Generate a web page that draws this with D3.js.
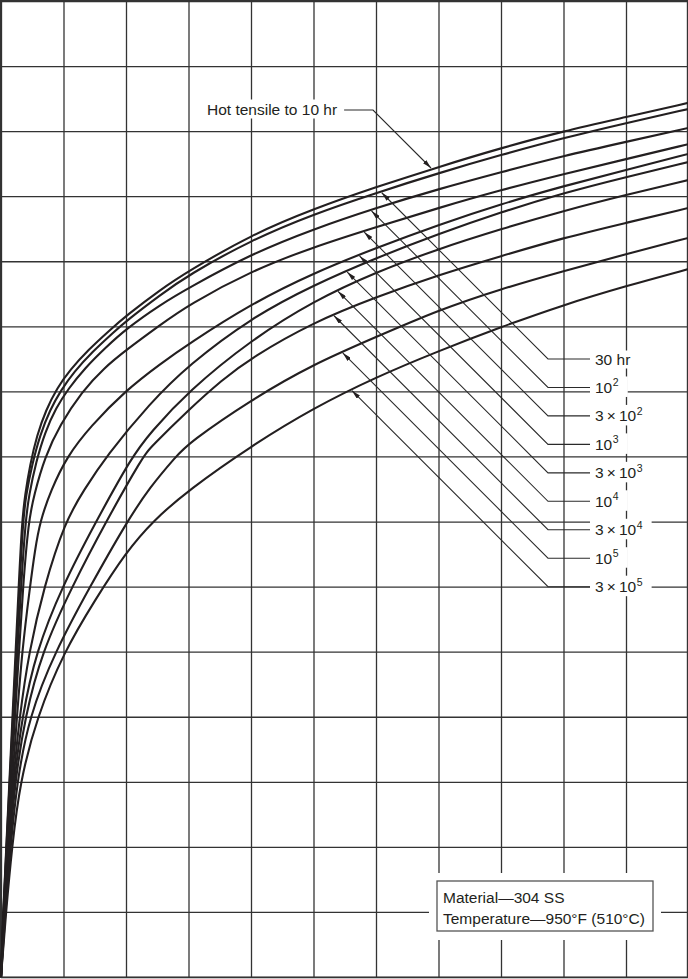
<!DOCTYPE html>
<html>
<head>
<meta charset="utf-8">
<script src="https://cdn.jsdelivr.net/npm/d3@7"></script>
<style>
html,body{margin:0;padding:0;background:#fff;}
svg{display:block;}
text{font-family:"Liberation Sans",Arial,Helvetica,sans-serif;fill:#231f20;}
</style>
</head>
<body>
<svg id="chart" width="688" height="979"></svg>
<script>
// ---------------- data ----------------
// grid (strain %, stress ksi) – chart has no printed tick labels
const strainTicks = [0,0.1,0.2,0.3,0.4,0.5,0.6,0.7,0.8,0.9,1.0,1.1];
const stressTicks = [0,2,4,6,8,10,12,14,16,18,20,22,24,26,28,30];

// isochronous stress-strain curves [strain %, stress ksi]
const hotTensile10hr = [[0,0],[0.0034,2],[0.0085,4],[0.0134,6],[0.0184,8],[0.0234,10],[0.0283,12],[0.0336,14],[0.0384,14.82],[0.0464,15.74],[0.0576,16.66],[0.072,17.43],[0.0896,18.10],[0.1104,18.66],[0.1392,19.27],[0.1744,19.89],[0.2,20.32],[0.2544,21.12],[0.3,21.70],[0.4,22.81],[0.5,23.61],[0.6,24.28],[0.7,24.90],[0.8,25.48],[0.9,26.0],[1.0,26.43],[1.1,26.87]];
const hr30   = [[0,0],[0.0035,2],[0.0088,4],[0.0139,6],[0.0192,8],[0.0245,10],[0.0296,12],[0.0352,14],[0.04,14.82],[0.0496,15.74],[0.0624,16.66],[0.0784,17.43],[0.096,18.04],[0.1168,18.60],[0.1456,19.21],[0.1808,19.83],[0.2,20.16],[0.2544,20.96],[0.3,21.58],[0.4,22.65],[0.5,23.45],[0.6,24.10],[0.7,24.71],[0.8,25.27],[0.9,25.79],[1.0,26.25],[1.1,26.68]];
const hr1e2  = [[0,0],[0.0038,2],[0.0093,4],[0.0147,6],[0.0205,8],[0.0264,10],[0.032,12],[0.0392,14],[0.0448,14.82],[0.056,15.83],[0.0704,16.75],[0.088,17.49],[0.1072,18.07],[0.1344,18.72],[0.1664,19.33],[0.2,19.92],[0.2544,20.66],[0.3,21.18],[0.4,22.22],[0.5,22.99],[0.6,23.64],[0.7,24.22],[0.8,24.74],[0.9,25.24],[1.0,25.67],[1.1,26.10]];
const hr3e2  = [[0,0],[0.0042,2],[0.0099,4],[0.016,6],[0.0224,8],[0.0288,10],[0.0352,12],[0.044,14],[0.0528,14.82],[0.0704,16],[0.0944,16.97],[0.1296,18],[0.1648,18.72],[0.2,19.27],[0.2544,20.04],[0.3,20.66],[0.4,21.70],[0.5,22.44],[0.6,23.05],[0.7,23.64],[0.8,24.19],[0.9,24.68],[1.0,25.14],[1.1,25.60]];
const hr1e3  = [[0,0],[0.0046,2],[0.0109,4],[0.0176,6],[0.0256,8],[0.0336,10],[0.0464,12],[0.0544,13.13],[0.0624,14],[0.08,14.97],[0.1056,16],[0.1424,16.91],[0.2,18.04],[0.2544,18.84],[0.3,19.46],[0.4,20.69],[0.5,21.64],[0.6,22.41],[0.7,23.12],[0.8,23.76],[0.9,24.31],[1.0,24.81],[1.1,25.30]];
const hr3e3  = [[0,0],[0.0051,2],[0.0118,4],[0.0192,6],[0.0296,8],[0.0448,10],[0.0688,12],[0.1024,14],[0.1328,14.97],[0.168,16],[0.2384,17.64],[0.3,18.81],[0.4,20.26],[0.5,21.27],[0.6,22.10],[0.7,22.84],[0.8,23.51],[0.9,24.10],[1.0,24.59],[1.1,25.05]];
const hr1e4  = [[0,0],[0.0056,2],[0.0128,4],[0.0208,6],[0.0336,8],[0.056,10],[0.0976,12],[0.152,14],[0.2096,16],[0.2384,16.72],[0.3,18.01],[0.4,19.58],[0.5,20.78],[0.6,21.67],[0.7,22.38],[0.8,22.99],[0.9,23.55],[1.0,24.04],[1.1,24.50]];
const hr3e4  = [[0,0],[0.0061,2],[0.0138,4],[0.0224,6],[0.0384,8],[0.0656,10],[0.1136,12],[0.168,14],[0.2272,16],[0.2384,16.26],[0.3,17.43],[0.3536,18.35],[0.4,19.03],[0.5,20.13],[0.6,20.90],[0.7,21.58],[0.8,22.16],[0.9,22.72],[1.0,23.18],[1.1,23.64]];
const hr1e5  = [[0,0],[0.0069,2],[0.0152,4],[0.0256,6],[0.0448,8],[0.0864,10],[0.1424,12],[0.2016,14],[0.2384,15.06],[0.28,16],[0.3,16.41],[0.4,17.74],[0.5,18.84],[0.6,19.67],[0.7,20.50],[0.8,21.15],[0.9,21.70],[1.0,22.22],[1.1,22.72]];
const hr3e5  = [[0,0],[0.008,2],[0.0176,4],[0.0304,6],[0.0576,8],[0.1008,10],[0.1504,11.59],[0.2,13.06],[0.2432,14.02],[0.3,14.97],[0.4,16.32],[0.5,17.49],[0.6,18.44],[0.7,19.24],[0.8,19.98],[0.9,20.66],[1.0,21.24],[1.1,21.76]];

// curve labels (base text + superscript exponent)
const topLabel   = "Hot tensile to 10 hr";
const labelBase  = ["30 hr","10","3\u2009\u00d7\u200910","10","3\u2009\u00d7\u200910","10","3\u2009\u00d7\u200910","10","3\u2009\u00d7\u200910"];
const labelExp   = ["","2","2","3","3","4","4","5","5"];
const noteLines  = ["Material\u2014304 SS","Temperature\u2014950\u00b0F (510\u00b0C)"];

const series = [hotTensile10hr, hr30, hr1e2, hr3e2, hr1e3, hr3e3, hr1e4, hr3e4, hr1e5, hr3e5];

// ---------------- drawing ----------------
const W = 688, H = 979;
const x = d3.scaleLinear().domain([0, 1.1]).range([1, 688.5]);
const y = d3.scaleLinear().domain([0, 30]).range([977, 1]);

const svg = d3.select("#chart");
svg.append("rect").attr("width", W).attr("height", H).attr("fill", "#fff");

const defs = svg.append("defs");
defs.append("marker").attr("id","ah")
  .attr("viewBox","0 0 10 5").attr("refX",10).attr("refY",2.5)
  .attr("markerWidth",9).attr("markerHeight",4.5)
  .attr("markerUnits","userSpaceOnUse").attr("orient","auto")
  .append("path").attr("d","M0,0L10,2.5L0,5Z").attr("fill","#231f20");

const gridG  = svg.append("g");
const bgG    = svg.append("g");
const curveG = svg.append("g");
const annoG  = svg.append("g");

// grid via axes
gridG.append("g").attr("transform", `translate(0,${y(0)})`)
  .call(d3.axisBottom(x).tickValues(strainTicks).tickSize(-(y(0) - y(30))).tickFormat(""));
gridG.append("g").attr("transform", `translate(${x(0)},0)`)
  .call(d3.axisLeft(y).tickValues(stressTicks).tickSize(-(x(1.1) - x(0))).tickFormat(""));
gridG.selectAll(".domain").remove();
gridG.selectAll(".tick line").attr("stroke", "#333").attr("stroke-width", 1.3);
gridG.append("rect").attr("x", 0.7).attr("y", 0.7).attr("width", 686.8).attr("height", 976.6)
  .attr("fill", "none").attr("stroke", "#333").attr("stroke-width", 1.4);

// curves
const line = d3.line().x(d => x(d[0])).y(d => y(d[1])).curve(d3.curveBasis);
const paths = curveG.selectAll("path.c").data(series).join("path")
  .attr("class", "c")
  .attr("d", line)
  .attr("fill", "none")
  .attr("stroke", "#231f20")
  .attr("stroke-width", 2.1)
  .attr("stroke-linejoin", "round");

function sample(node) {
  const L = node.getTotalLength(), pts = [];
  for (let s = 0; s <= L; s += 0.5) { const p = node.getPointAtLength(s); pts.push([p.x, p.y]); }
  return pts;
}
function yAt(pts, px) {
  for (let i = 1; i < pts.length; i++) {
    if (pts[i][0] >= px && pts[i-1][0] <= px) {
      const a = pts[i-1], b = pts[i];
      const t = (px - a[0]) / ((b[0] - a[0]) || 1);
      return a[1] + t * (b[1] - a[1]);
    }
  }
  return pts[pts.length - 1][1];
}
const samples = paths.nodes().map(sample);

const FS = 15.5;

function whiteBg(node, l, r, t, b) {
  const bb = node.getBBox();
  bgG.append("rect").attr("x", bb.x - l).attr("y", bb.y - t)
    .attr("width", bb.width + l + r).attr("height", bb.height + t + b).attr("fill", "#fff");
}

// top label: Hot tensile
const tHot = annoG.append("text").attr("x", 207).attr("y", 114.5).attr("font-size", FS).text(topLabel);
whiteBg(tHot.node(), 4, 6, 1, 1);
{
  const x0 = 207 + tHot.node().getComputedTextLength() + 7, y0 = 110, bx = 373;
  const pts = samples[0];
  let tip = null;
  for (let t = 0; t < 300; t += 0.25) {
    const px = bx + t, py = y0 + t;
    if (py >= yAt(pts, px) - 1.5) { tip = [px, py]; break; }
  }
  annoG.append("path")
    .attr("d", `M${x0},${y0}L${bx},${y0}L${tip[0]},${tip[1]}`)
    .attr("fill", "none").attr("stroke", "#2a2a2a").attr("stroke-width", 1.1)
    .attr("marker-end", "url(#ah)");
}

// right-hand labels
labelBase.forEach((base, i) => {
  const ly = 359 + 28.46 * i;
  const t = annoG.append("text").attr("x", 595).attr("y", ly + 5.5).attr("font-size", FS);
  t.append("tspan").text(base);
  if (labelExp[i]) t.append("tspan").attr("dx", 0.5).attr("dy", -6.5).attr("font-size", 10.5).text(labelExp[i]);
  whiteBg(t.node(), 5, 9, 0, 1);
  const pts = samples[i + 1];
  const sx = 548;
  let tip = null;
  for (let s = 0; s < 400; s += 0.25) {
    const px = sx - s, py = ly - s;
    if (py <= yAt(pts, px) + 1.5) { tip = [px, py]; break; }
  }
  annoG.append("path")
    .attr("d", `M590,${ly}L${sx},${ly}L${tip[0]},${tip[1]}`)
    .attr("fill", "none").attr("stroke", "#2a2a2a").attr("stroke-width", 1.1)
    .attr("marker-end", "url(#ah)");
});

// material note box
bgG.append("rect").attr("x", 429).attr("y", 873).attr("width", 232).attr("height", 67).attr("fill", "#fff");
annoG.append("rect").attr("x", 437).attr("y", 881).attr("width", 216).attr("height", 50)
  .attr("fill", "#fff").attr("stroke", "#555").attr("stroke-width", 1.3);
noteLines.forEach((s, i) => {
  annoG.append("text").attr("x", 443).attr("y", 903 + 21 * i).attr("font-size", FS).text(s);
});
</script>
</body>
</html>
